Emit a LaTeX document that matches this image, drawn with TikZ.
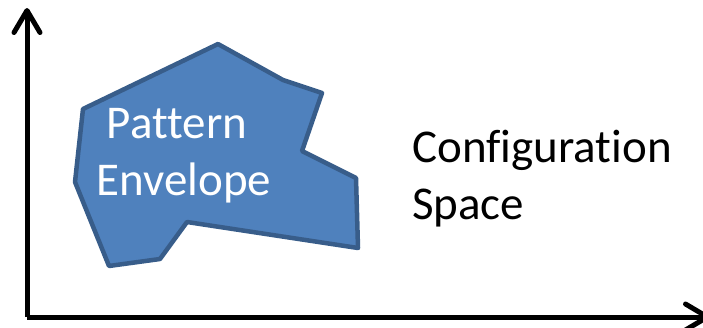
\documentclass[tikz,border=0pt]{standalone}
\usepackage{fontspec}
\setmainfont[Ligatures={NoCommon}]{Carlito}
\usetikzlibrary{arrows.meta}
\definecolor{envfill}{RGB}{79,129,189}
\definecolor{envline}{RGB}{56,93,138}
\begin{document}
\begin{tikzpicture}[x=1pt,y=-1pt,>={Straight Barb[length=22pt,width=26pt,line cap=round,line join=round]}]
    \useasboundingbox (0,0) rectangle (703,327);
    \clip (0,0) rectangle (703,327);
    \tikzset{axis/.style={line width=5pt,->},
             envelope/.style={fill=envfill,draw=envline,line width=4.5pt,line join=round},
             bigtext/.style={font=\fontsize{47}{57}\selectfont,inner sep=0pt}}

    \coordinate (origin) at (27,317);
    \coordinate (ytip) at (27,8);
    \coordinate (xtip) at (710,317);
    \draw[axis] (origin)--(ytip);
    \draw[axis] (origin)--(xtip);

    \draw[envelope] (83,109)--(218,44)--(283,80)--(322,93)--(302,151)--(356,178)
        --(358,248)--(187,222)--(160,259)--(109,266)--(75,182)--cycle;
    \node[bigtext,align=center,text=white] (envlabel) at (184,156) {Pattern\hspace*{0.3em}\\Envelope};

    \node[bigtext,align=left,anchor=west] (spacelabel) at (412,179) {Configuration\\Space};
\end{tikzpicture}
\end{document}
